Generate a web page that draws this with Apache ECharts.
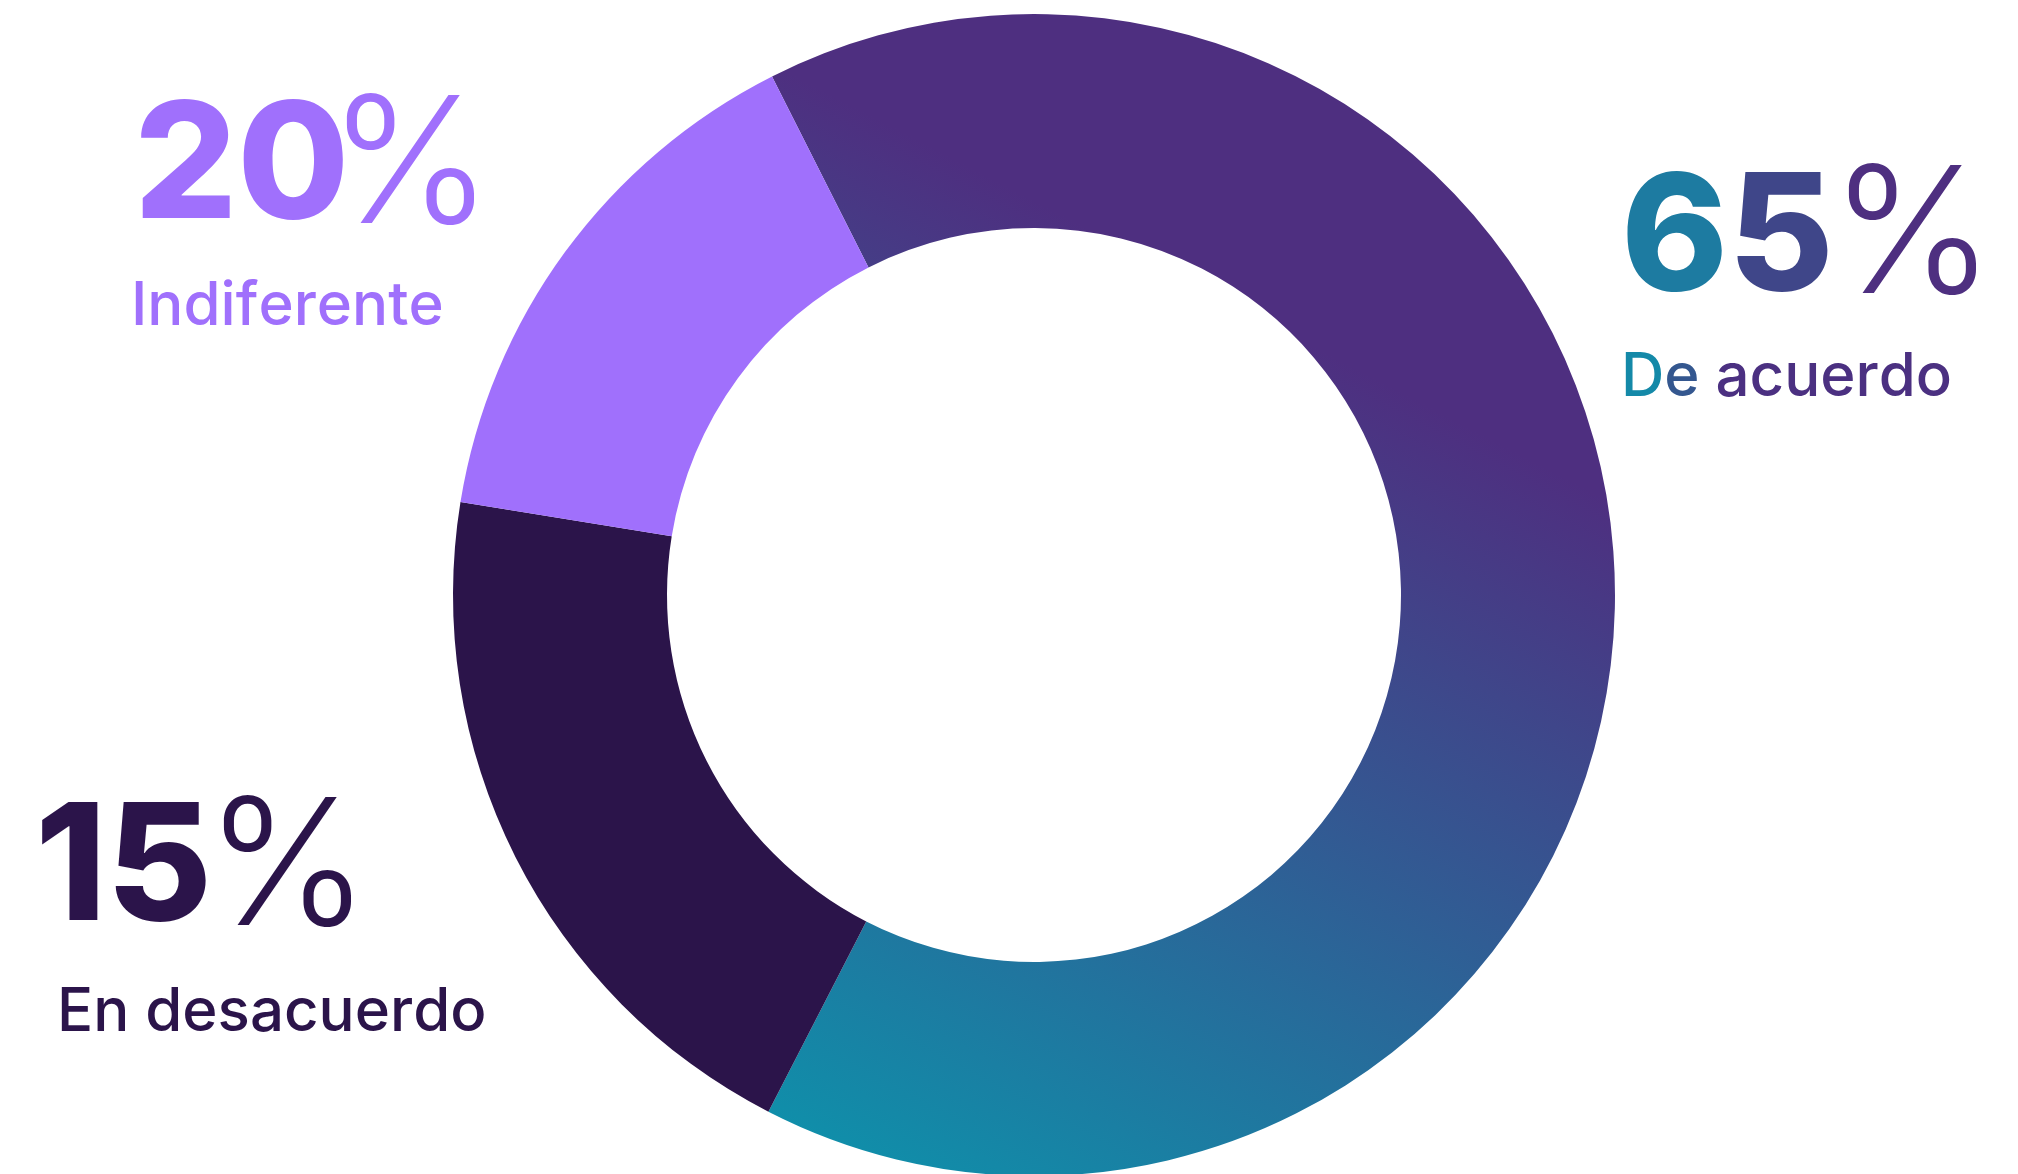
<!DOCTYPE html>
<html>
<head>
<meta charset="utf-8">
<style>
html,body{margin:0;padding:0;background:#ffffff;}
#chart{width:2018px;height:1174px;}
</style>
<script src="https://cdn.jsdelivr.net/npm/echarts@6/dist/echarts.min.js"></script>
</head>
<body>
<div id="chart"></div>
<script>
// ---- data ----
const categories = ['De acuerdo', 'Indiferente', 'En desacuerdo'];
const values = [65, 20, 15];
const percentSuffix = '%';

// ---- styles ----
const TEAL = '#0b96ad';
const PURPLE = '#4e2f80';
const LIGHT = '#a070fc';
const DARK = '#2b144a';
const FONT = 'Inter, "Noto Sans", sans-serif';

const ringGradient = {
  type: 'linear', x: 729, y: 1179, x2: 1196, y2: 285, global: true,
  colorStops: [{ offset: 0, color: TEAL }, { offset: 1, color: PURPLE }]
};
const sliceColors = [ringGradient, DARK, LIGHT];

// per-glyph colours approximating the gradient text of the first label
const numGlyphColors = [['#1d7ba1', '#3f4689'], [LIGHT], [DARK]];
const wordGlyphColors = [['#1489a8', '#34578f', '#4b3081'], [LIGHT], [DARK]];

// label layout (positions / sizes only)
const labelLayout = [
  { numX: 1621, numY: 241, pctX: 1830, pctY: 240, wordX: 1621, wordY: 378, pctFill: '#4e2f80' },
  { numX: 134,  numY: 169, pctX: 328,  pctY: 170, wordX: 131,  wordY: 307, pctFill: LIGHT },
  { numX: 35,   numY: 871, pctX: 205,  pctY: 872, wordX: 57,   wordY: 1013, pctFill: DARK }
];

function richGlyphs(str, colors, font) {
  const rich = {};
  let text = '';
  str.split('').forEach(function (ch, k) {
    const key = 'g' + k;
    rich[key] = {
      fill: colors[Math.min(k, colors.length - 1)],
      fontFamily: font.family, fontWeight: font.weight, fontSize: font.size
    };
    text += '{' + key + '|' + ch + '}';
  });
  return { text: text, rich: rich };
}

const numFont = { family: FONT, weight: 800, size: 162 };
const wordFont = { family: FONT, weight: 500, size: 60 };

const graphics = [];
categories.forEach(function (name, i) {
  const L = labelLayout[i];
  const num = richGlyphs(String(values[i]), numGlyphColors[i], numFont);
  const word = richGlyphs(name, wordGlyphColors[i], wordFont);
  graphics.push({
    type: 'text', x: L.numX, y: L.numY, silent: true,
    style: { text: num.text, rich: num.rich, fontFamily: FONT, fontWeight: 800, fontSize: 162,
             align: 'left', verticalAlign: 'middle' }
  });
  graphics.push({
    type: 'text', x: L.pctX, y: L.pctY, silent: true,
    style: { text: percentSuffix, fontFamily: FONT, fontWeight: 300, fontSize: 176,
             fill: L.pctFill, align: 'left', verticalAlign: 'middle' }
  });
  graphics.push({
    type: 'text', x: L.wordX, y: L.wordY, silent: true,
    style: { text: word.text, rich: word.rich, fontFamily: FONT, fontWeight: 500, fontSize: 60,
             align: 'left', verticalAlign: 'middle' }
  });
});

const chart = echarts.init(document.getElementById('chart'), null, { renderer: 'canvas' });
chart.setOption({
  animation: false,
  backgroundColor: '#ffffff',
  series: [{
    type: 'pie',
    center: [1034, 595],
    radius: [367, 581],
    startAngle: 116.8,
    clockwise: true,
    silent: true,
    avoidLabelOverlap: false,
    label: { show: false },
    labelLine: { show: false },
    itemStyle: { borderWidth: 0 },
    emphasis: { disabled: true },
    data: categories.map(function (c, i) {
      return { name: c, value: values[i], itemStyle: { color: sliceColors[i] } };
    })
  }],
  graphic: graphics
});
</script>
</body>
</html>
